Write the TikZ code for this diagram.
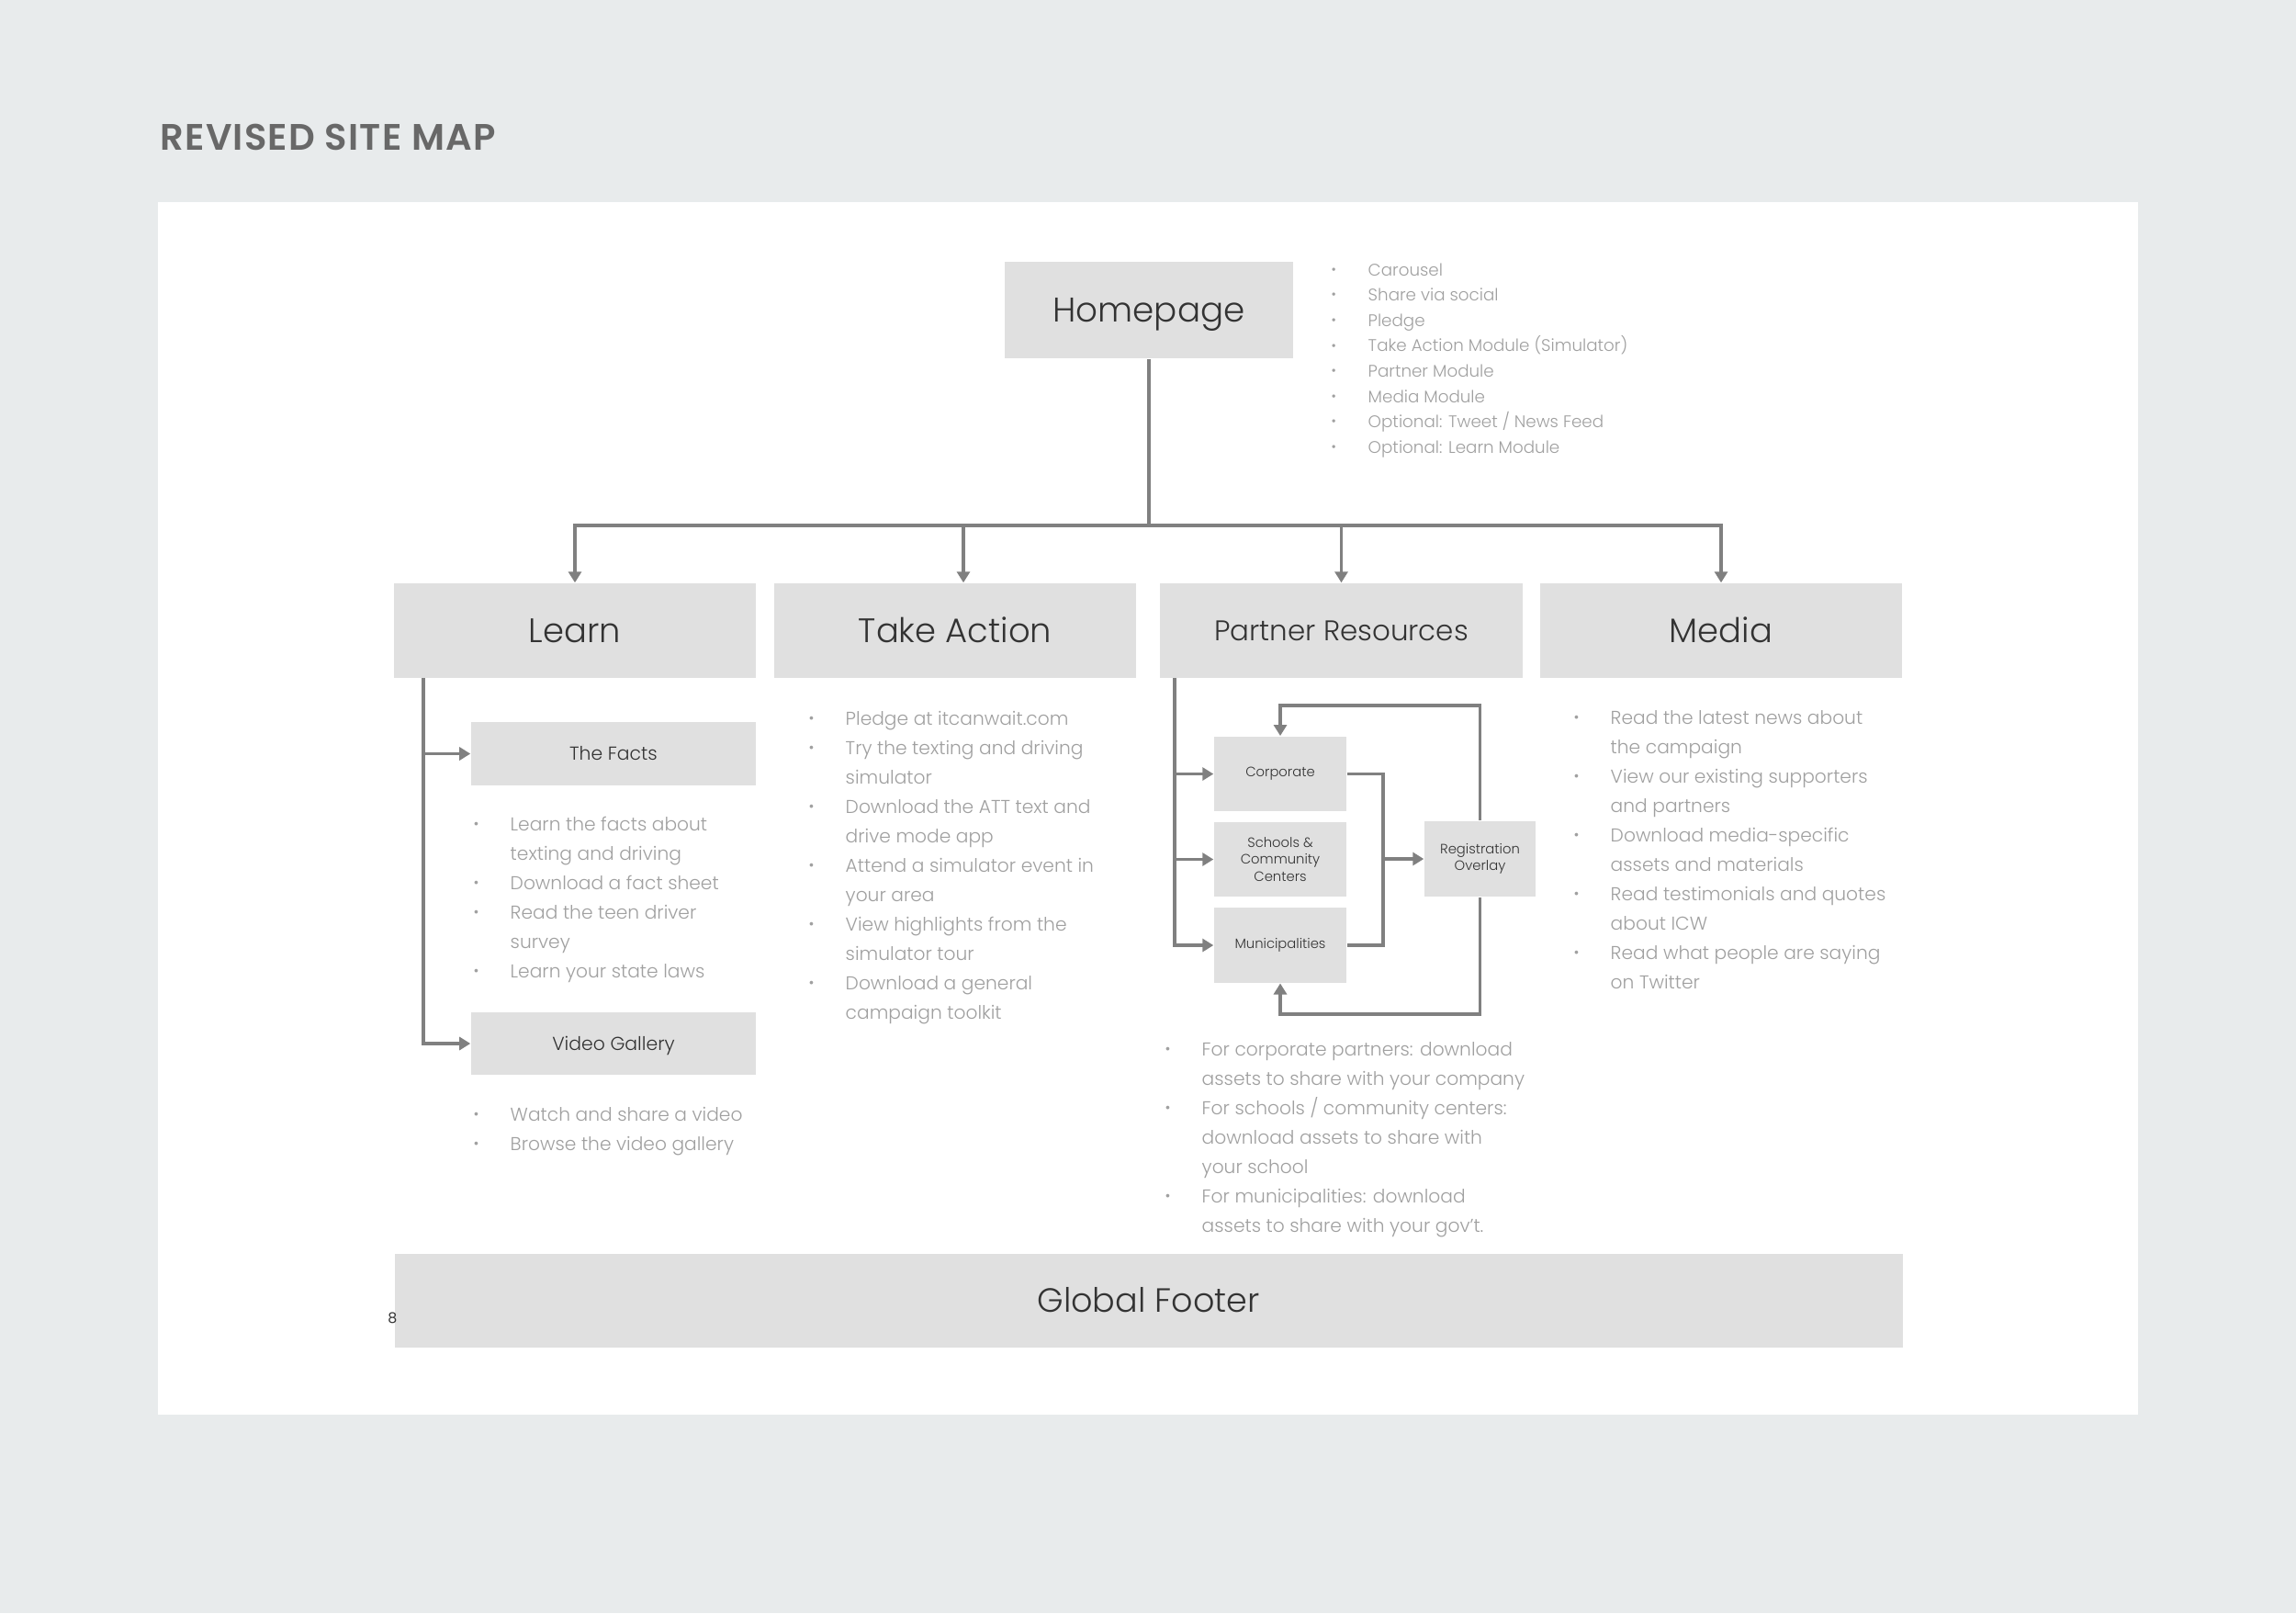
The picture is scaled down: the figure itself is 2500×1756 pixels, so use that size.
\documentclass[tikz,border=0pt]{standalone}
\usepackage{fontspec}
\setmainfont{Poppins Light}
\newfontfamily\titlefont{Poppins SemiBold}[LetterSpace=3]
\newfontfamily\numfont{Poppins}
\usepackage{graphicx}
\usetikzlibrary{arrows.meta,calc}
\definecolor{bgc}{HTML}{E8EBEC}
\definecolor{boxc}{HTML}{E0E0E0}
\definecolor{linec}{HTML}{808080}
\definecolor{labc}{HTML}{333333}
\definecolor{bulc}{HTML}{A0A0A0}
\definecolor{titc}{HTML}{686868}
\newcommand{\bul}{\raisebox{0.1em}{\scalebox{0.8}{\textbullet}}}
\newcommand{\blist}[1]{\begin{tabular}[t]{@{}p{0.40cm}@{}l@{}}#1\end{tabular}}
\begin{document}
\begin{tikzpicture}[x=0.01cm,y=-0.01cm,
  box/.style={fill=boxc, draw=none, inner sep=0pt, text=labc, align=center},
  bigbox/.style={box, minimum width=3.94cm, minimum height=1.03cm, font=\fontsize{10.5}{13}\selectfont, text height=7.35pt, text depth=0pt},
  subbox/.style={box, minimum width=3.10cm, minimum height=0.685cm, font=\fontsize{5.8}{8}\selectfont, text height=4.1pt, text depth=0pt},
  smallbox/.style={box, minimum width=1.44cm, minimum height=0.815cm, font=\fontsize{4.2}{5.2}\selectfont},
  conn/.style={draw=linec, line width=0.9pt},
  arr/.style={conn, -{Triangle[length=0.12cm,width=0.14cm]}},
  blst/.style={anchor=base west, inner sep=0pt, text=bulc},
  lst/.style={blst, font=\fontsize{5.75}{9.1}\selectfont}
]
\fill[bgc] (0,0) rectangle (2500,1756);
\fill[white] (172,220) rectangle (2328,1540);

\node[anchor=base west, inner sep=0pt, text=titc, font=\titlefont\fontsize{11.4}{13}\selectfont] (title) at (174,163) {REVISED SITE MAP};

% Homepage
\node[box, minimum width=3.14cm, minimum height=1.05cm, font=\fontsize{10.6}{14}\selectfont, text height=7.4pt, text depth=0pt] (home) at (1251,337.5) {Homepage};
\node[blst, font=\fontsize{5.2}{7.85}\selectfont] (hlist) at (1449,300) {\blist{%
\bul & Carousel\\
\bul & Share via social\\
\bul & Pledge\\
\bul & Take Action Module (Simulator)\\
\bul & Partner Module\\
\bul & Media Module\\
\bul & Optional: Tweet / News Feed\\
\bul & Optional: Learn Module}};

% top level
\node[bigbox] (learn) at (626,686.5) {Learn};
\node[bigbox] (take) at (1040,686.5) {Take Action};
\node[bigbox, minimum width=3.95cm, font=\fontsize{8.8}{10}\selectfont, text height=6.1pt] (partner) at (1460.5,686.5) {Partner Resources};
\node[bigbox] (media) at (1874,686.5) {Media};

\coordinate (bus) at (1251,572);
\draw[conn] (home.south) -- (bus);
\draw[arr] (bus) -| (learn.north);
\draw[arr] (bus) -| ([xshift=0.09cm]take.north);
\draw[arr] (bus) -| (partner.north);
\draw[arr] (bus) -| (media.north);

% Learn subtree
\node[subbox] (facts) at (668,820.5) {The Facts};
\node[subbox] (video) at (668,1136) {Video Gallery};
\coordinate (ls) at (461,738);
\draw[arr] (ls) |- (facts.west);
\draw[arr] (ls) |- (video.west);
\node[lst] (flist) at (515,904) {\blist{%
\bul & Learn the facts about\\
 & texting and driving\\
\bul & Download a fact sheet\\
\bul & Read the teen driver\\
 & survey\\
\bul & Learn your state laws}};
\node[lst] (vlist) at (515,1220) {\blist{%
\bul & Watch and share a video\\
\bul & Browse the video gallery}};

% Take Action list
\node[lst] (tlist) at (880,789) {\blist{%
\bul & Pledge at itcanwait.com\\
\bul & Try the texting and driving\\
 & simulator\\
\bul & Download the ATT text and\\
 & drive mode app\\
\bul & Attend a simulator event in\\
 & your area\\
\bul & View highlights from the\\
 & simulator tour\\
\bul & Download a general\\
 & campaign toolkit}};

% Partner subtree
\node[smallbox] (corp) at (1394,842.5) {Corporate};
\node[smallbox] (school) at (1394,935.5) {Schools \&\\Community\\Centers};
\node[smallbox] (muni) at (1394,1029) {Municipalities};
\node[smallbox, minimum width=1.21cm, minimum height=0.82cm] (reg) at (1611.5,935) {Registration\\Overlay};
\coordinate (ps) at (1279,738);
\draw[arr] (ps) |- (corp.west);
\draw[arr] (ps) |- (school.west);
\draw[arr] (ps) |- (muni.west);
\coordinate (rj) at (1506,935);
\draw[conn] (corp.east) -| (rj) |- (muni.east);
\draw[arr] (rj) -- (reg.west);
\coordinate (lt) at (1394,768);
\coordinate (lb) at (1394,1104);
\draw[arr] (reg.north) |- (lt) -- (corp.north);
\draw[arr] (reg.south) |- (lb) -- (muni.south);
\node[lst] (plist) at (1268,1149) {\blist{%
\bul & For corporate partners: download\\
 & assets to share with your company\\
\bul & For schools / community centers:\\
 & download assets to share with\\
 & your school\\
\bul & For municipalities: download\\
 & assets to share with your gov’t.}};

% Media list
\node[lst] (mlist) at (1713,788) {\blist{%
\bul & Read the latest news about\\
 & the campaign\\
\bul & View our existing supporters\\
 & and partners\\
\bul & Download media-specific\\
 & assets and materials\\
\bul & Read testimonials and quotes\\
 & about ICW\\
\bul & Read what people are saying\\
 & on Twitter}};

% Footer
\node[box, minimum width=16.41cm, minimum height=1.02cm, font=\fontsize{10.4}{13}\selectfont, text height=7.3pt, text depth=0pt] (footer) at (1250.5,1416) {Global Footer};
\node[anchor=base east, inner sep=0pt, text=labc, font=\numfont\fontsize{4.5}{5}\selectfont] (pnum) at (433,1440) {8};
\end{tikzpicture}
\end{document}
